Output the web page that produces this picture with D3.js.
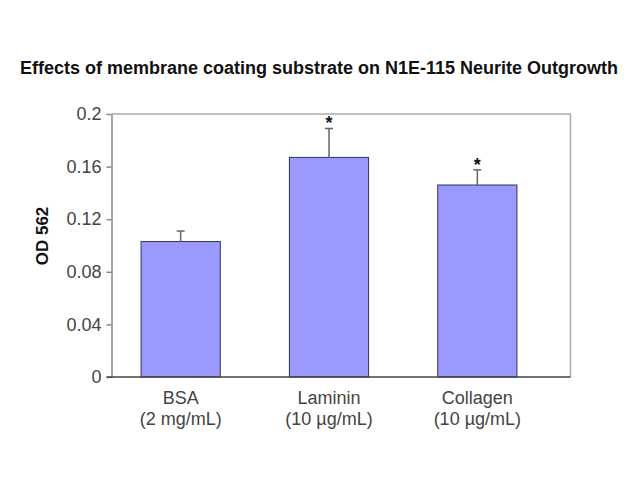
<!DOCTYPE html>
<html><head><meta charset="utf-8">
<script src="https://cdn.jsdelivr.net/npm/d3@7"></script>
<style>body{margin:0;background:#fff;} svg{display:block;}</style>
</head><body>
<svg id="c" width="640" height="480"></svg>
<script>
const categories = ["BSA", "Laminin", "Collagen"];
const subLabels = ["(2 mg/mL)", "(10 µg/mL)", "(10 µg/mL)"];
const values = [0.103, 0.167, 0.146];
const errors = [0.008, 0.022, 0.0115];
const significant = [false, true, true];
const yTicks = [0, 0.04, 0.08, 0.12, 0.16, 0.2];
const yTickLabels = ["0", "0.04", "0.08", "0.12", "0.16", "0.2"];

(function () {
const svg = d3.select("#c");
const font = "Liberation Sans, Arial, sans-serif";
const pLeft = 111.5, pRight = 570.5, pTop = 114, pBottom = 377;

const y = d3.scaleLinear().domain([0, 0.2]).range([pBottom, pTop]);
const x = d3.scaleBand().domain(categories).range([106.5, 551.5]).paddingInner(0.466).paddingOuter(0.233);

// frame
svg.append("line").attr("x1", pLeft).attr("x2", pRight).attr("y1", pTop).attr("y2", pTop)
  .attr("stroke", "#aaa").attr("stroke-width", 1.5);
svg.append("line").attr("x1", pRight).attr("x2", pRight).attr("y1", pTop).attr("y2", pBottom)
  .attr("stroke", "#aaa").attr("stroke-width", 1.5);

// bars
svg.selectAll("rect.bar").data(values).enter().append("rect")
  .attr("x", (d, i) => x(categories[i]))
  .attr("width", x.bandwidth())
  .attr("y", d => y(d))
  .attr("height", d => y(0) - y(d))
  .attr("fill", "#9999ff").attr("stroke", "#333355").attr("stroke-width", 1);

// error bars (upper only)
values.forEach((v, i) => {
  const cx = x(categories[i]) + x.bandwidth() / 2;
  svg.append("line").attr("x1", cx).attr("x2", cx).attr("y1", y(v)).attr("y2", y(v + errors[i]))
    .attr("stroke", "#666").attr("stroke-width", 1.5);
  svg.append("line").attr("x1", cx - 4).attr("x2", cx + 4).attr("y1", y(v + errors[i])).attr("y2", y(v + errors[i]))
    .attr("stroke", "#666").attr("stroke-width", 1.5);
  if (significant[i]) {
    svg.append("text").attr("x", cx).attr("y", y(v + errors[i]) + 1)
      .attr("text-anchor", "middle").attr("font-family", font).attr("font-weight", "bold")
      .attr("font-size", 18).attr("fill", "#111").text("*");
  }
});

// y axis
const yAxis = d3.axisLeft(y).tickValues(yTicks).tickFormat((d, i) => yTickLabels[i]).tickSize(5).tickSizeOuter(0).tickPadding(5);
const gy = svg.append("g").attr("transform", `translate(${pLeft},0)`).call(yAxis);
gy.select(".domain").attr("stroke", "#888").attr("stroke-width", 1.5);
gy.selectAll(".tick line").attr("stroke", "#888").attr("stroke-width", 1.5);
gy.selectAll("text").attr("font-family", font).attr("font-size", 18).attr("fill", "#444");

// x axis baseline
svg.append("line").attr("x1", pLeft - 5).attr("x2", pRight).attr("y1", pBottom).attr("y2", pBottom)
  .attr("stroke", "#444").attr("stroke-width", 1.5);

// x labels
categories.forEach((c, i) => {
  const cx = x(c) + x.bandwidth() / 2;
  svg.append("text").attr("x", cx).attr("y", 404).attr("text-anchor", "middle")
    .attr("font-family", font).attr("font-size", 18).attr("fill", "#444").text(c);
  svg.append("text").attr("x", cx).attr("y", 425).attr("text-anchor", "middle")
    .attr("font-family", font).attr("font-size", 18).attr("fill", "#444").text(subLabels[i]);
});

// y title
svg.append("text").attr("transform", "translate(48,236) rotate(-90)").attr("text-anchor", "middle")
  .attr("font-family", font).attr("font-weight", "bold").attr("font-size", 17).attr("fill", "#111").text("OD 562");

// title
svg.append("text").attr("x", 319).attr("y", 74).attr("text-anchor", "middle")
  .attr("font-family", font).attr("font-weight", "bold").attr("font-size", 18).attr("fill", "#111")
  .text("Effects of membrane coating substrate on N1E-115 Neurite Outgrowth");
})();
</script>
</body></html>
